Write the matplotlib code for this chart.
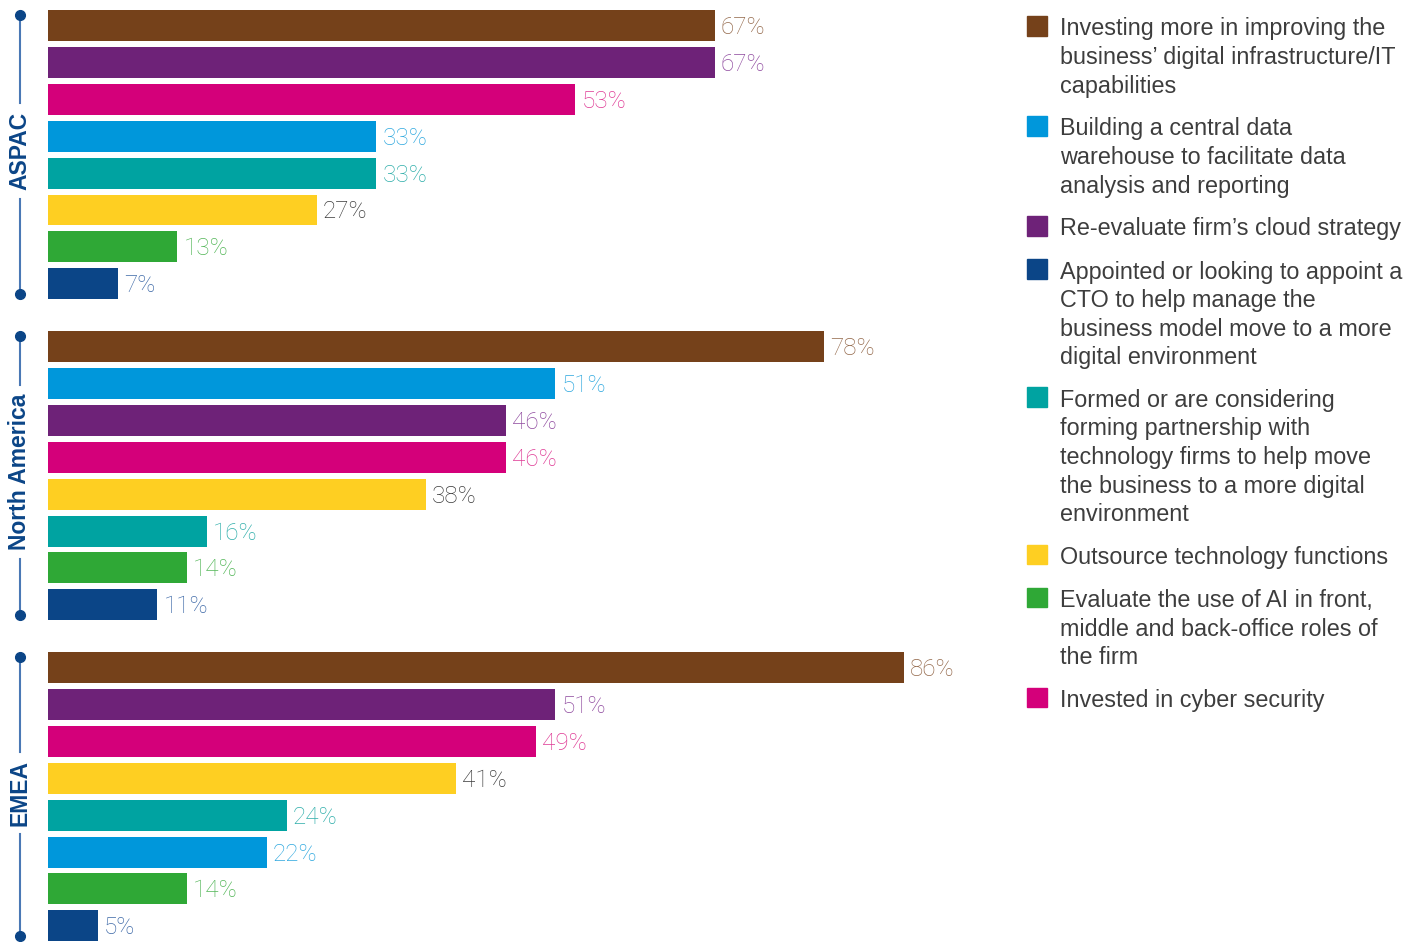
import matplotlib.pyplot as plt
from matplotlib.patches import Rectangle
from matplotlib.lines import Line2D

W, H = 1415, 942

regions = ['ASPAC', 'North America', 'EMEA']

# series keys in bar order for each region (top to bottom)
aspac_keys = ['infra', 'cloud', 'cyber', 'dwh', 'partner', 'outsource', 'ai', 'cto']
aspac_vals = [67, 67, 53, 33, 33, 27, 13, 7]
na_keys = ['infra', 'dwh', 'cloud', 'cyber', 'outsource', 'partner', 'ai', 'cto']
na_vals = [78, 51, 46, 46, 38, 16, 14, 11]
emea_keys = ['infra', 'cloud', 'cyber', 'outsource', 'partner', 'dwh', 'ai', 'cto']
emea_vals = [86, 51, 49, 41, 24, 22, 14, 5]

legend_keys = ['infra', 'dwh', 'cloud', 'cto', 'partner', 'outsource', 'ai', 'cyber']
legend_labels = [
    'Investing more in improving the\nbusiness\u2019 digital infrastructure/IT\ncapabilities',
    'Building a central data\nwarehouse to facilitate data\nanalysis and reporting',
    'Re-evaluate firm\u2019s cloud strategy',
    'Appointed or looking to appoint a\nCTO to help manage the\nbusiness model move to a more\ndigital environment',
    'Formed or are considering\nforming partnership with\ntechnology firms to help move\nthe business to a more digital\nenvironment',
    'Outsource technology functions',
    'Evaluate the use of AI in front,\nmiddle and back-office roles of\nthe firm',
    'Invested in cyber security',
]

bar_colors = {'infra': '#75411a', 'cloud': '#6e2278', 'cyber': '#d4007a', 'dwh': '#0097db',
              'partner': '#00a3a1', 'outsource': '#fecf22', 'ai': '#2fa836', 'cto': '#0b4587'}
label_colors = {'infra': '#94694b', 'cloud': '#8f4a9f', 'cyber': '#df3a95', 'dwh': '#2ea8df',
                'partner': '#2eaeaa', 'outsource': '#3c3c3c', 'ai': '#52b657', 'cto': '#3f6aa8'}
navy = '#0b4587'

fig = plt.figure(figsize=(W / 100, H / 100), dpi=100)

# bar axes: 1 unit = one bar slot (36.9 px), x in percent at 9.95 px per %
slot = 36.9
px_pct = 9.95
ax = fig.add_axes([48 / W, 0, 100 * px_pct / W, 1])
ax.set_xlim(0, 100)
y_top = -25.5 / slot
ax.set_ylim(y_top + H / slot, y_top)
ax.axis('off')

group_step = 8.7
bar_h = 0.84
all_keys = [aspac_keys, na_keys, emea_keys]
all_vals = [aspac_vals, na_vals, emea_vals]

for g, (keys, vals) in enumerate(zip(all_keys, all_vals)):
    ys = [g * group_step + i for i in range(len(vals))]
    ax.barh(ys, vals, height=bar_h, color=[bar_colors[k] for k in keys])
    for y, v, k in zip(ys, vals, keys):
        ax.annotate(f'{v}%', (v, y), xytext=(6, -2), textcoords='offset pixels',
                    va='center', ha='left', fontsize=17.5, family='Roboto',
                    fontweight='light', color=label_colors[k])

# region labels with vertical lines and dots (figure pixel coords)
def ypix(u):
    return (u - y_top) * slot

half_len = {'ASPAC': 44, 'North America': 83, 'EMEA': 37}
for g, name in enumerate(regions):
    top = ypix(g * group_step - bar_h / 2) + 5
    bot = ypix(g * group_step + 7 + bar_h / 2) - 5
    mid = (top + bot) / 2 - 4
    fig.text(20 / W, 1 - mid / H, name, rotation=90, ha='center', va='center',
             fontsize=16.5, fontweight='bold', color=navy, family='Liberation Sans')
    half = half_len[name] + 4
    for a, b in [(top, mid - half), (mid + half, bot)]:
        fig.add_artist(Line2D([20 / W, 20 / W], [1 - a / H, 1 - b / H], color='#4a78b5', lw=1.5))
    for yy in (top, bot):
        fig.add_artist(Line2D([20 / W], [1 - yy / H], marker='o', ms=7, color=navy, lw=0))

# legend
line_h = 28.5
gap = 14.5
y0 = 16
for key, lab in zip(legend_keys, legend_labels):
    lines = lab.split('\n')
    fig.add_artist(Rectangle((1027 / W, 1 - (y0 + 19.5) / H), 20 / W, 19.5 / H,
                             color=bar_colors[key], transform=fig.transFigure))
    for j, ln in enumerate(lines):
        fig.text(1060 / W, 1 - (y0 + 19.5 + j * line_h) / H, ln, ha='left', va='baseline',
                 fontsize=16.8, color='#3d3d3d', family='Liberation Sans')
    y0 += len(lines) * line_h + gap

fig.savefig('out.png', dpi=100)
